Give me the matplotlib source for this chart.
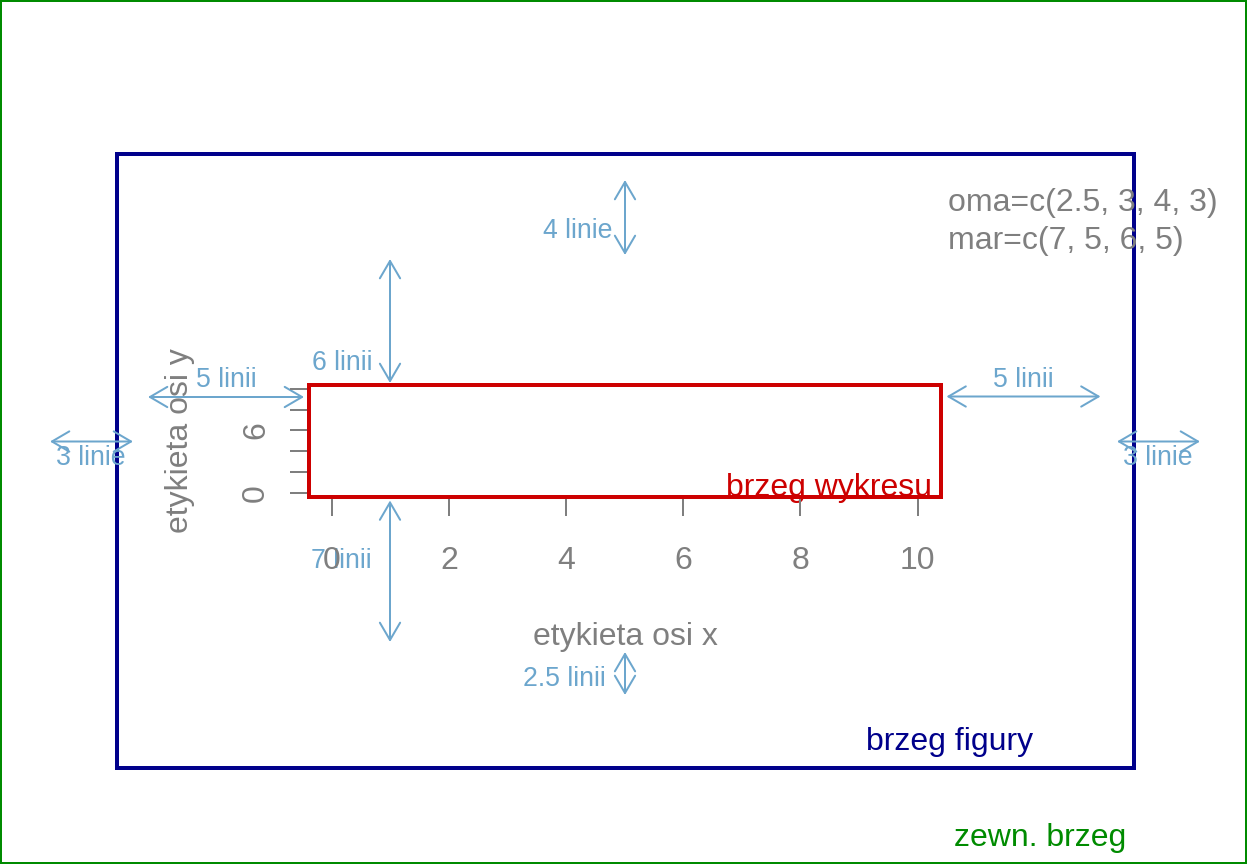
import matplotlib
matplotlib.use("Agg")
import matplotlib.pyplot as plt
from matplotlib.patches import Rectangle

# ---------------- data ----------------
x_ticks = [0, 2, 4, 6, 8, 10]
x_tick_labels = ["0", "2", "4", "6", "8", "10"]
y_ticks = [0, 2, 4, 6, 8, 10]
y_tick_labels = ["0", "", "", "6", "", ""]
x_limits = [-0.4, 10.4]
y_limits = [-0.4, 10.4]
x_label = "etykieta osi x"
y_label = "etykieta osi y"
settings_lines = ["oma=c(2.5, 3, 4, 3)", "mar=c(7, 5, 6, 5)"]
margin_labels = ["4 linie", "6 linii", "5 linii", "5 linii",
                 "3 linie", "3 linie", "7 linii", "2.5 linii"]
region_labels = ["brzeg wykresu", "brzeg figury", "zewn. brzeg"]

# ---------------- styles / layout (pixels) ----------------
W, H, DPI = 1247, 864, 192
GRAY = "#7F7F7F"
BLUE = "#6CA6CD"
RED = "#CD0000"
NAVY = "#00008B"
GREEN = "#008B00"

plt.rcParams["font.family"] = ["Liberation Sans", "DejaVu Sans"]

fig = plt.figure(figsize=(W / DPI, H / DPI), dpi=DPI)
fig.patch.set_facecolor("white")

# background axes in pixel coordinates (y downwards)
bg = fig.add_axes([0, 0, 1, 1])
bg.set_xlim(0, W)
bg.set_ylim(H, 0)
bg.axis("off")

# plot region
pl, pr, pt, pb = 308.5, 941, 384.5, 497
ax = fig.add_axes([pl / W, (H - pb) / H, (pr - pl) / W, (pb - pt) / H])
ax.set_facecolor("none")
ax.set_xlim(*x_limits)
ax.set_ylim(*y_limits)
ax.set_xticks(x_ticks)
ax.set_xticklabels(x_tick_labels)
ax.set_yticks(y_ticks)
ax.set_yticklabels(y_tick_labels, rotation=90, va="center")
for s in ax.spines.values():
    s.set_color(RED)
    s.set_linewidth(1.5)
    s.set_zorder(5)
ax.tick_params(axis="both", direction="out", length=7.2, width=0.75,
               color=GRAY, labelcolor=GRAY, labelsize=12)
ax.tick_params(axis="x", pad=11.0)
ax.tick_params(axis="y", pad=6.9)

ax.set_xlabel(x_label, fontsize=12, color=GRAY)
ax.xaxis.set_label_coords(625, 645, transform=bg.transData)
ax.xaxis.label.set_va("baseline")
ax.set_ylabel(y_label, fontsize=12, color=GRAY)
ax.yaxis.set_label_coords(188, 441, transform=bg.transData)
ax.yaxis.label.set_va("baseline")

# outer (device) border and figure border
bg.add_patch(Rectangle((1, 1), W - 2, H - 2, fill=False, ec=GREEN, lw=0.75,
                       clip_on=False))
bg.add_patch(Rectangle((117, 154), 1133.5 - 117, 767.5 - 154, fill=False,
                       ec=NAVY, lw=1.5, clip_on=False))

# margin arrows: (x1, y1, x2, y2), label position, alignment
arrow_specs = [
    ((625, 180, 625, 255), (612, 238), "right"),
    ((390, 259, 390, 383), (372, 370.5), "right"),
    ((148, 397, 304, 397), (226, 387), "center"),
    ((946.5, 396.5, 1100.5, 396.5), (1023.5, 387), "center"),
    ((50, 441.5, 133, 441.5), (91, 465), "center"),
    ((1117, 441.5, 1200, 441.5), (1158, 465), "center"),
    ((390, 500.5, 390, 642), (372, 568), "right"),
    ((625, 652, 625, 695), (606, 686), "right"),
]
for (x1, y1, x2, y2), (tx, ty), ha in arrow_specs:
    bg.annotate("", xy=(x2, y2), xytext=(x1, y1), annotation_clip=False,
                arrowprops=dict(arrowstyle="<->,head_length=0.65,head_width=0.38",
                                color=BLUE, lw=0.75, shrinkA=0, shrinkB=0,
                                mutation_scale=10))
for ((_, (tx, ty), ha), lab) in zip(arrow_specs, margin_labels):
    bg.text(tx, ty, lab, color=BLUE, fontsize=10, ha=ha, va="baseline", zorder=6)

# settings text
bg.text(948, 211, settings_lines[0], color=GRAY, fontsize=12, ha="left", va="baseline")
bg.text(948, 249, settings_lines[1], color=GRAY, fontsize=12, ha="left", va="baseline")

# region labels
bg.text(932, 496, region_labels[0], color=RED, fontsize=12, ha="right", va="baseline")
bg.text(1033, 750, region_labels[1], color=NAVY, fontsize=12, ha="right", va="baseline")
bg.text(1126, 846, region_labels[2], color=GREEN, fontsize=12, ha="right", va="baseline")

fig.savefig("out.png", dpi=DPI, facecolor="white")
